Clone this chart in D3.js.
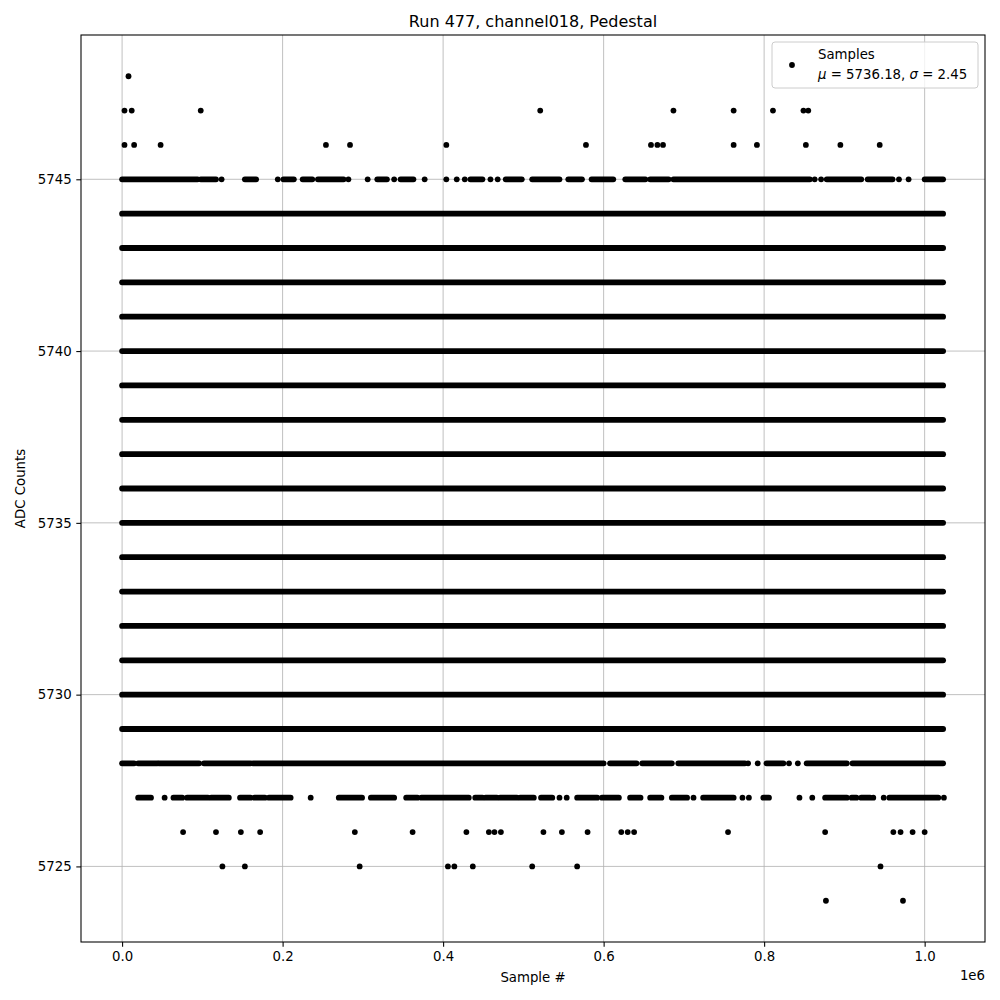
<!DOCTYPE html>
<meta charset="utf-8">
<style>
body { margin: 0; background: #fff; }
text { font-family: "DejaVu Sans", sans-serif; fill: #000; }
.grid line { stroke: #b0b0b0; stroke-width: 0.8px; }
</style>
<svg width="1000" height="1000"></svg>
<script src="https://d3js.org/d3.v7.min.js"></script>
<script>

// sample positions in thousands of samples; a number is one sample,
// a pair [a, b] is a run of samples too close together to tell apart
var denseLevels = [5729, 5730, 5731, 5732, 5733, 5734, 5735, 5736, 5737,
                   5738, 5739, 5740, 5741, 5742, 5743, 5744];
var lastSample = 1023;

var row5748 = [8];
var row5747 = [3, 12, 98, 521, 687, 762, 811, 849, 855];
var row5746 = [3, 15, 48, 254, 284, 404, 578, 659, 667, 674, 762, 791, 852, 895, 944];
var row5745 = [[0, 94], [98, 117], 124, [153, 167], 194, [201, 214], [225, 237],
               [244, 276], 282, 306, [318, 330], 339, [347, 363], 377, 404, 417, 427,
               [434, 449], 459, 468, [478, 498], [511, 545], [556, 573], [585, 612],
               [627, 652], [658, 681], [687, 857], 863, 871, [878, 921], [929, 960],
               968, 980, [1000, 1023]];
var row5728 = [[0, 15], [20, 44], [46, 96], [102, 160], [163, 600], [608, 641],
               [648, 685], [693, 776], 780, 792, [803, 824], 831, 842, [853, 903],
               [910, 1023]];
var row5727 = [[20, 36], 53, [64, 75], [81, 107], [111, 133], [147, 160], [165, 178],
               [183, 210], 235, [270, 299], [310, 339], [354, 368], [373, 432],
               [440, 449], [453, 467], [471, 492], [496, 513], [522, 536], 545, 554,
               [567, 592], [598, 619], [633, 646], [658, 672], [685, 704], 712,
               [724, 762], 773, 781, [799, 806], 844, 860, [876, 903], [909, 915],
               [921, 932], 936, 949, [956, 1017], 1024];
var row5726 = [76, 117, 148, 172, 290, 362, 429, 457, 464, 472, 525, 548, 580,
               622, 630, 638, 755, 876, 961, 970, 985, 1000];
var row5725 = [125, 153, 296, 406, 414, 437, 511, 567, 945];
var row5724 = [877, 973];

var xTicks = [0, 0.2, 0.4, 0.6, 0.8, 1.0];   // x 1e6
var yTicks = [5725, 5730, 5735, 5740, 5745];

var meanVal = 5736.18, sigmaVal = 2.45;

var rows = [
  { y: 5748, pts: row5748 }, { y: 5747, pts: row5747 }, { y: 5746, pts: row5746 },
  { y: 5745, pts: row5745 }, { y: 5728, pts: row5728 }, { y: 5727, pts: row5727 },
  { y: 5726, pts: row5726 }, { y: 5725, pts: row5725 }, { y: 5724, pts: row5724 }
];
denseLevels.forEach(function(v) { rows.push({ y: v, pts: [[0, lastSample]] }); });

var svg = d3.select("svg"),
    pLeft = 81, pRight = 985, pTop = 35, pBottom = 942,
    r = 2.9;

var x = d3.scaleLinear().domain([-51.2, 1075.2]).range([pLeft, pRight]);
var y = d3.scaleLinear().domain([5722.8, 5749.2]).range([pBottom, pTop]);

// grid
var grid = svg.append("g").attr("class", "grid");
grid.selectAll(".gx").data(xTicks).enter().append("line")
    .attr("x1", function(d) { return x(d * 1000); })
    .attr("x2", function(d) { return x(d * 1000); })
    .attr("y1", pTop).attr("y2", pBottom);
grid.selectAll(".gy").data(yTicks).enter().append("line")
    .attr("y1", function(d) { return y(d); })
    .attr("y2", function(d) { return y(d); })
    .attr("x1", pLeft).attr("x2", pRight);

// samples
var marks = svg.append("g");
rows.forEach(function(row) {
  var runs = row.pts.filter(function(p) { return Array.isArray(p); }),
      singles = row.pts.filter(function(p) { return !Array.isArray(p); });

  marks.selectAll(null).data(runs).enter().append("line")
      .attr("x1", function(d) { return x(d[0]); })
      .attr("x2", function(d) { return x(d[1]); })
      .attr("y1", y(row.y)).attr("y2", y(row.y))
      .attr("stroke", "#000")
      .attr("stroke-width", 2 * r)
      .attr("stroke-linecap", "round");

  marks.selectAll(null).data(singles).enter().append("circle")
      .attr("cx", function(d) { return x(d); })
      .attr("cy", y(row.y))
      .attr("r", r)
      .attr("fill", "#000");
});

// axes
var xAxis = d3.axisBottom(x)
    .tickValues(xTicks.map(function(d) { return d * 1000; }))
    .tickFormat(function(d) { return (d / 1000).toFixed(1); })
    .tickSizeOuter(0).tickSize(4.7).tickPadding(4.7);
var yAxis = d3.axisLeft(y)
    .tickValues(yTicks)
    .tickFormat(d3.format("d"))
    .tickSizeOuter(0).tickSize(4.7).tickPadding(4.7);

var gx = svg.append("g").attr("transform", "translate(0," + pBottom + ")").call(xAxis);
var gy = svg.append("g").attr("transform", "translate(" + pLeft + ",0)").call(yAxis);
[gx, gy].forEach(function(g) {
  g.select(".domain").remove();
  g.selectAll("text").style("font-size", "13.3px").style("font-family", "DejaVu Sans");
  g.selectAll("line").attr("stroke", "#000").attr("stroke-width", 1.07);
});

svg.append("rect")
    .attr("x", pLeft).attr("y", pTop)
    .attr("width", pRight - pLeft).attr("height", pBottom - pTop)
    .attr("fill", "none").attr("stroke", "#000").attr("stroke-width", 1.07);

// labels
svg.append("text")
    .attr("x", (pLeft + pRight) / 2).attr("y", 27)
    .attr("text-anchor", "middle").style("font-size", "16px")
    .text("Run 477, channel018, Pedestal");
svg.append("text")
    .attr("x", (pLeft + pRight) / 2).attr("y", 982)
    .attr("text-anchor", "middle").style("font-size", "13.3px")
    .text("Sample #");
svg.append("text")
    .attr("transform", "translate(25," + ((pTop + pBottom) / 2) + ") rotate(-90)")
    .attr("text-anchor", "middle").style("font-size", "13.3px")
    .text("ADC Counts");
svg.append("text")
    .attr("x", pRight).attr("y", 980)
    .attr("text-anchor", "end").style("font-size", "13.3px")
    .text("1e6");

// legend
var lg = svg.append("g").attr("transform", "translate(772,42)");
lg.append("rect")
    .attr("width", 206).attr("height", 46).attr("rx", 3)
    .attr("fill", "#fff").attr("fill-opacity", 0.8)
    .attr("stroke", "#cccccc").attr("stroke-width", 1);
lg.append("circle").attr("cx", 20).attr("cy", 23).attr("r", r).attr("fill", "#000");
lg.append("text").attr("x", 46).attr("y", 17).style("font-size", "13.3px").text("Samples");
var t2 = lg.append("text").attr("x", 46).attr("y", 37).style("font-size", "13.3px");
t2.append("tspan").style("font-style", "italic").text("\u03bc");
t2.append("tspan").text(" = " + meanVal.toFixed(2) + ", ");
t2.append("tspan").style("font-style", "italic").text("\u03c3");
t2.append("tspan").text(" = " + sigmaVal.toFixed(2));

</script>
